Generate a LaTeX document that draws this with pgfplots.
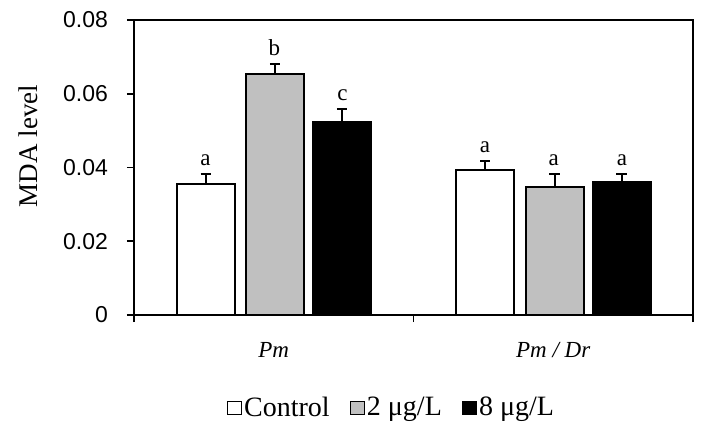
\documentclass[border=0pt]{standalone}
\usepackage{fontspec}
\setmainfont{Liberation Serif}
\newfontfamily\arial{Liberation Sans}
\usepackage{pgfplots}
\usepackage{pgfplotstable}
\pgfplotsset{compat=1.18}
\definecolor{barsilver}{RGB}{192,192,192}

% group, mean, SE
\pgfplotstableread{
x y err
1 0.0355 0.0027
2 0.0393 0.0025
}\ctrl
\pgfplotstableread{
x y err
1 0.0654 0.0027
2 0.0348 0.0034
}\lowdose
\pgfplotstableread{
x y err
1 0.0524 0.0034
2 0.0362 0.0020
}\highdose
% significance letters, sitting on the error bar tops
\pgfplotstableread{
x y lab
0.756 0.0382 a
1.002 0.0681 b
1.246 0.0558 c
1.756 0.0418 a
2.002 0.0382 a
2.246 0.0382 a
}\letters

\begin{document}
\begin{tikzpicture}
\path[use as bounding box] (-67pt,-60.5pt) rectangle (286pt,157.5pt);
\begin{axis}[
    scale only axis,
    width=279.5pt, height=147.5pt,
    ybar, bar width=29pt,
    xmin=0.5, xmax=2.5,
    ymin=0, ymax=0.08,
    axis line style={line width=0.9pt},
    tick style={line width=0.9pt, black},
    tick align=outside,
    major tick length=3.5pt,
    xtick pos=bottom, ytick pos=left,
    scaled y ticks=false,
    ytick={0,0.02,0.04,0.06,0.08},
    yticklabels={0,0.02,0.04,0.06,0.08},
    yticklabel style={font=\arial\fontsize{11.5}{13}\selectfont, xshift=-6pt},
    xtick={0.5,1.5,2.5},
    xticklabels={},
    extra x ticks={1,2},
    extra x tick labels={\textit{Pm},\textit{Pm / Dr}},
    extra x tick style={major tick length=0pt},
    xticklabel style={font=\fontsize{11.5}{13}\selectfont, yshift=-10pt},
    ylabel={MDA level},
    ylabel style={font=\fontsize{13.5}{16}\selectfont, at={(axis description cs:-0.19,0.573)}, anchor=center},
    legend style={at={(0.4606,-0.315)}, anchor=center, draw=none,
        font=\fontsize{14}{16}\selectfont,
        nodes={inner xsep=1pt},
        /tikz/every even column/.append style={column sep=9pt}},
    legend columns=3,
    legend image code/.code={\draw[#1, line width=0.6pt] (0pt,-3.4pt) rectangle (7pt,3.4pt);},
    error bars/error bar style={line width=0.9pt, black},
    error bars/error mark=|,
    error bars/error mark options={mark size=2.6pt, line width=0.9pt, black},
]
\addplot[bar shift=-34pt, fill=white, draw=black, line width=0.9pt,
    error bars/.cd, y dir=plus, y explicit]
    table[x=x, y=y, y error=err] {\ctrl};
\addlegendentry{Control}
\addplot[bar shift=0.7pt, fill=barsilver, draw=black, line width=0.9pt,
    error bars/.cd, y dir=plus, y explicit]
    table[x=x, y=y, y error=err] {\lowdose};
\addlegendentry{2 μg/L}
\addplot[bar shift=34.2pt, fill=black, draw=black, line width=0.9pt,
    error bars/.cd, y dir=plus, y explicit]
    table[x=x, y=y, y error=err] {\highdose};
\addlegendentry{8 μg/L}
\addplot[forget plot, bar shift=0pt, draw=none, fill=none, nodes near coords, point meta=explicit symbolic,
    nodes near coords style={font=\fontsize{11.5}{13}\selectfont, anchor=south, inner sep=1pt, yshift=3pt}]
    table[x=x, y=y, meta=lab] {\letters};
\end{axis}
\end{tikzpicture}
\end{document}
